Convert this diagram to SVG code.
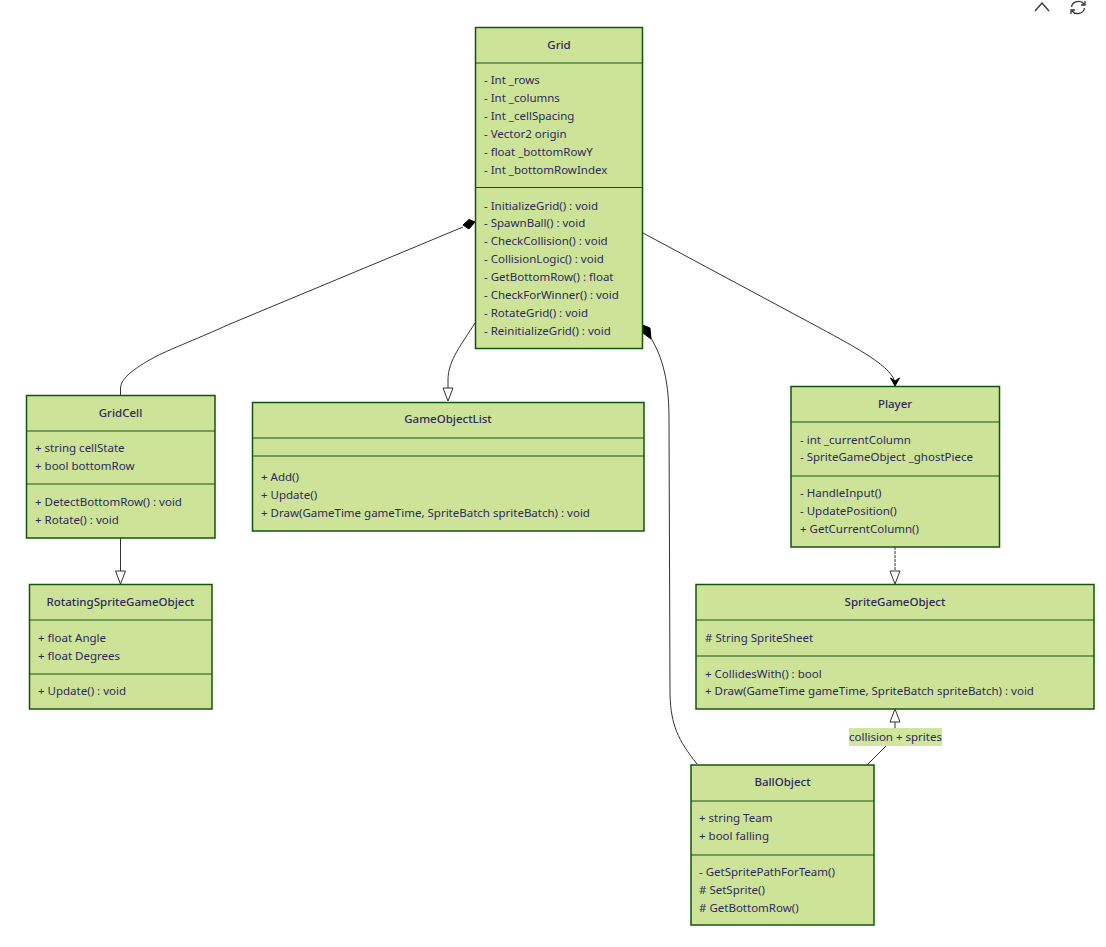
<svg xmlns="http://www.w3.org/2000/svg" width="1106" height="947" viewBox="0 0 1106 947">
<style>
text{font-family:"Noto Sans","Liberation Sans",sans-serif;font-size:11.5px;fill:#2e2860}
.t{font-weight:500;text-anchor:middle}
.b{fill:#cde498;stroke:#13540c;stroke-width:1.5}
.d{stroke:#13540c;stroke-width:1.2;fill:none}
.c{fill:none;stroke:#333;stroke-width:1}
.i{fill:none;stroke:#333;stroke-width:1.3}
.h{fill:#fff;stroke:#333}
.k{fill:#000;stroke:#000}
</style>
<g id="connectors">
<path class="c" d="M120.500,395 L120.500,388 C121,378 135,368 153,358 C170,349 190,342 230,324 L463,227"/>
<path class="k" d="M475,222 L469,219.500 L463,225 L469,229 Z"/>
<path class="c" d="M475,323 C462,344 448,360 448,380 L448,388"/>
<path class="h" d="M448,401 L443,388 L453,388 Z"/>
<path class="c" d="M649,335 C660,352 669,375 669,418 L670,695 C671,725 678,740 697,764"/>
<path class="k" d="M642.500,325 L650,328 L651,339 L643,333 Z"/>
<path class="c" d="M643,233 L820,328 C855,347 895,368 895,384"/>
<path class="k" d="M895,386 L890.500,378 L895,381 L899.500,378 Z"/>
<path class="c" stroke-dasharray="3 1" d="M895,547 L895,571"/>
<path class="h" d="M895,584 L890,571 L900,571 Z"/>
<path class="c" d="M120.500,538 L120.500,571"/>
<path class="h" d="M120.500,584 L115.500,571 L125.500,571 Z"/>
<path class="c" d="M867,765 L886,746"/>
<path class="c" d="M895,728 L895,722"/>
<path class="h" d="M895,709 L890,722 L900,722 Z"/>
<rect x="849" y="728" width="93" height="18" fill="#cde498" opacity=".95"/>
<text x="895.500" y="741" text-anchor="middle">collision + sprites</text>
</g>
<g id="Grid">
<rect class="b" x="475.500" y="27.500" width="167" height="321"/>
<path class="d" d="M475,63 H642 M475,187.500 H642"/>
<text class="t" x="559" y="49">Grid</text>
<text x="484" y="84">- Int _rows</text><text x="484" y="102">- Int _columns</text><text x="484" y="120">- Int _cellSpacing</text><text x="484" y="138">- Vector2 origin</text><text x="484" y="156">- float _bottomRowY</text><text x="484" y="174">- Int _bottomRowIndex</text>
<text x="484" y="210">- InitializeGrid() : void</text><text x="484" y="227">- SpawnBall() : void</text><text x="484" y="245">- CheckCollision() : void</text><text x="484" y="263">- CollisionLogic() : void</text><text x="484" y="281">- GetBottomRow() : float</text><text x="484" y="299">- CheckForWinner() : void</text><text x="484" y="317">- RotateGrid() : void</text><text x="484" y="335">- ReinitializeGrid() : void</text>
</g>
<g id="GridCell">
<rect class="b" x="26.500" y="395.500" width="188.500" height="142.500"/>
<path class="d" d="M26,431 H215 M26,484 H215"/>
<text class="t" x="120.500" y="417">GridCell</text>
<text x="35" y="452">+ string cellState</text><text x="35" y="470">+ bool bottomRow</text>
<text x="35" y="506">+ DetectBottomRow() : void</text><text x="35" y="524">+ Rotate() : void</text>
</g>
<g id="GameObjectList">
<rect class="b" x="252.500" y="402.500" width="391.500" height="128.500"/>
<path class="d" d="M252,438 H644 M252,456 H644"/>
<text class="t" x="448" y="423">GameObjectList</text>
<text x="261" y="481">+ Add()</text><text x="261" y="499">+ Update()</text><text x="261" y="517">+ Draw(GameTime gameTime, SpriteBatch spriteBatch) : void</text>
</g>
<g id="Player">
<rect class="b" x="791" y="386.500" width="208.500" height="160.500"/>
<path class="d" d="M791,422 H999 M791,476 H999"/>
<text class="t" x="895" y="408">Player</text>
<text x="800" y="444">- int _currentColumn</text><text x="800" y="461">- SpriteGameObject _ghostPiece</text>
<text x="800" y="497">- HandleInput()</text><text x="800" y="515">- UpdatePosition()</text><text x="800" y="533">+ GetCurrentColumn()</text>
</g>
<g id="RotatingSpriteGameObject">
<rect class="b" x="29.500" y="584.500" width="182.500" height="124.500"/>
<path class="d" d="M29,620 H212 M29,674 H212"/>
<text class="t" x="120.500" y="606">RotatingSpriteGameObject</text>
<text x="38" y="642">+ float Angle</text><text x="38" y="660">+ float Degrees</text>
<text x="38" y="695">+ Update() : void</text>
</g>
<g id="SpriteGameObject">
<rect class="b" x="696" y="584.500" width="398" height="124.500"/>
<path class="d" d="M696,620 H1094 M696,656 H1094"/>
<text class="t" x="895" y="606">SpriteGameObject</text>
<text x="705" y="642"># String SpriteSheet</text>
<text x="705" y="678">+ CollidesWith() : bool</text><text x="705" y="695">+ Draw(GameTime gameTime, SpriteBatch spriteBatch) : void</text>
</g>
<g id="BallObject">
<rect class="b" x="691" y="765" width="183" height="160"/>
<path class="d" d="M691,801 H874 M691,855 H874"/>
<text class="t" x="782.500" y="786">BallObject</text>
<text x="699" y="822">+ string Team</text><text x="699" y="840">+ bool falling</text>
<text x="699" y="876">- GetSpritePathForTeam()</text><text x="699" y="894"># SetSprite()</text><text x="699" y="912"># GetBottomRow()</text>
</g>
<g id="toolbar">
<path class="i" d="M1035,11 L1042,3 L1049,11"/>
<path class="i" d="M1071.500,7 A7,6.500 0 0 1 1084,4 M1084.500,8 A7,6.500 0 0 1 1072,11 M1085,1 L1085,5 L1081,5 M1071,14 L1071,10 L1075,10"/>
</g>
</svg>
